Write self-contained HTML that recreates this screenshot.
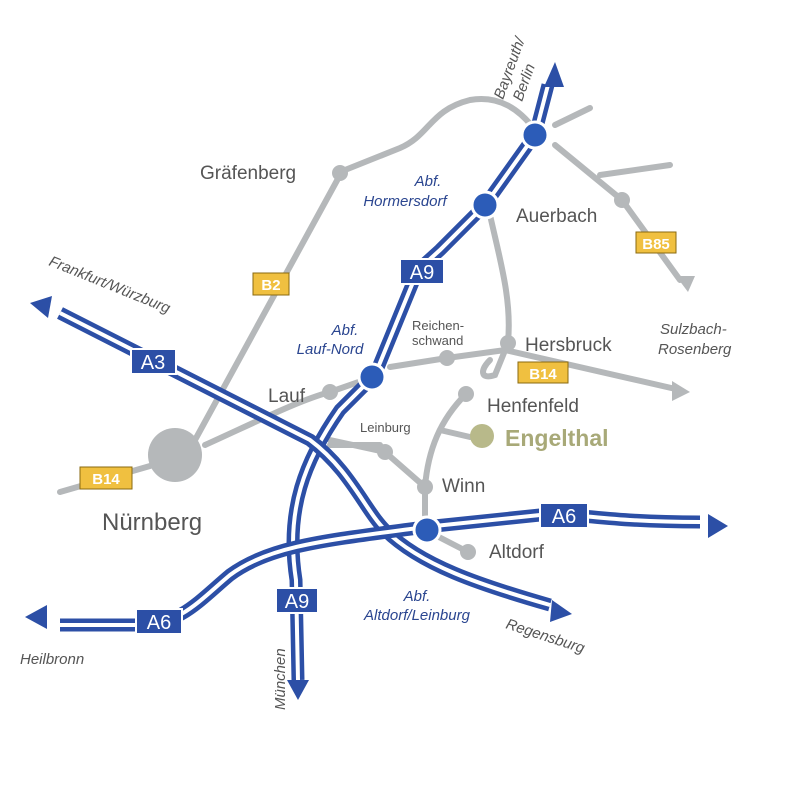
<!DOCTYPE html>
<html><head><meta charset="utf-8"><style>
html,body{margin:0;padding:0;background:#fff;width:800px;height:800px;overflow:hidden}
svg{display:block}
text{font-family:"Liberation Sans","DejaVu Sans",sans-serif}
.g{fill:none;stroke:#b5b8ba;stroke-width:6;stroke-linecap:round}
.hb{fill:none;stroke:#2c4fa6;stroke-width:13}
.hw{fill:none;stroke:#fff;stroke-width:4}
.lab{fill:#555;font-size:19px}
.it{fill:#2b4690;font-size:15px;font-style:italic}
.itg{fill:#555;font-size:15px;font-style:italic}
</style></head><body>
<svg width="800" height="800" viewBox="0 0 800 800">
<!-- gray roads -->
<path class="g" d="M195,440 L340,175"/>
<path class="g" d="M345,170 L400,148 C430,135 430,110 470,100 C500,95 520,110 535,130"/>
<path class="g" d="M205,445 C260,420 300,400 330,392 L370,378"/>
<path class="g" d="M390,367 L447,358 L505,350 L680,390"/>
<path class="g" d="M555,145 L622,200 L680,280"/>
<path class="g" d="M600,175 L670,165"/>
<path class="g" d="M555,125 L590,108"/>
<path class="g" d="M490,215 C500,260 512,300 508,342"/>
<path class="g" d="M508,343 L495,375 C480,380 480,370 490,360"/>
<path class="g" d="M466,394 C440,420 428,450 425,487 L425,515"/>
<path class="g" d="M440,430 L470,437"/>
<path class="g" d="M330,440 L385,452 L425,487"/>
<path class="g" d="M330,445 L380,445"/>
<path class="g" d="M435,535 L468,552"/>
<path class="g" d="M60,492 L150,466"/>
<polygon points="690,392 672,381 672,401" fill="#b5b8ba"/>
<polygon points="688,292 676,276 695,276" fill="#b5b8ba"/>
<!-- highways -->
<g>
<path class="hb" d="M548,85 L535,135 L485,205 L440,250 L418,270 L375,375 L340,410 C305,460 285,510 296,580 L298,680"/>
<path class="hw" d="M548,85 L535,135 L485,205 L440,250 L418,270 L375,375 L340,410 C305,460 285,510 296,580 L298,680"/>
<path class="hb" d="M60,313 L310,440 C350,470 365,510 385,530 C420,565 480,585 550,605"/>
<path class="hw" d="M60,313 L310,440 C350,470 365,510 385,530 C420,565 480,585 550,605"/>
<path class="hb" d="M60,625 L140,625 C180,625 200,600 230,575 C270,545 330,540 425,527 L540,515 C580,512 600,522 700,522"/>
<path class="hw" d="M60,625 L140,625 C180,625 200,600 230,575 C270,545 330,540 425,527 L540,515 C580,512 600,522 700,522"/>
</g>
<polygon points="555,62 544,87 564,87" fill="#2c4fa6"/>
<polygon points="30,303 52,296 48,318" fill="#2c4fa6"/>
<polygon points="572,614 552,600 550,622" fill="#2c4fa6"/>
<polygon points="25,617 47,605 47,629" fill="#2c4fa6"/>
<polygon points="728,526 708,514 708,538" fill="#2c4fa6"/>
<polygon points="298,700 287,680 309,680" fill="#2c4fa6"/>
<!-- shields -->
<g fill="#2c4fa6" stroke="#fff" stroke-width="2">
<rect x="400" y="259" width="44" height="25"/>
<rect x="131" y="349" width="45" height="25"/>
<rect x="136" y="609" width="46" height="25"/>
<rect x="276" y="588" width="42" height="25"/>
<rect x="540" y="503" width="48" height="25"/>
</g>
<g fill="#fff" font-size="20" text-anchor="middle">
<text x="422" y="279">A9</text><text x="153" y="369">A3</text><text x="159" y="629">A6</text><text x="297" y="608">A9</text><text x="564" y="523">A6</text>
</g>
<g fill="#f0c040" stroke="#8a6a10" stroke-width="1">
<rect x="253" y="273" width="36" height="22"/><rect x="636" y="232" width="40" height="21"/><rect x="518" y="362" width="50" height="21"/><rect x="80" y="467" width="52" height="22"/>
</g>
<g fill="#fff" font-size="15" font-weight="bold" text-anchor="middle">
<text x="271" y="290">B2</text><text x="656" y="249">B85</text><text x="543" y="379">B14</text><text x="106" y="484">B14</text>
</g>
<!-- nodes -->
<g fill="#b5b8ba">
<circle cx="175" cy="455" r="27"/>
<circle cx="340" cy="173" r="8"/><circle cx="622" cy="200" r="8"/><circle cx="508" cy="343" r="8"/><circle cx="447" cy="358" r="8"/>
<circle cx="330" cy="392" r="8"/><circle cx="466" cy="394" r="8"/><circle cx="385" cy="452" r="8"/><circle cx="425" cy="487" r="8"/><circle cx="468" cy="552" r="8"/>
</g>
<circle cx="482" cy="436" r="12" fill="#b8b98a"/>
<g fill="#2c5cb8" stroke="#fff" stroke-width="3">
<circle cx="535" cy="135" r="13"/><circle cx="485" cy="205" r="13"/><circle cx="372" cy="377" r="13"/><circle cx="427" cy="530" r="13"/>
</g>
<!-- labels -->
<text class="lab" x="200" y="179">Gräfenberg</text>
<text class="lab" x="516" y="222">Auerbach</text>
<text class="lab" x="525" y="351">Hersbruck</text>
<text class="lab" x="487" y="412">Henfenfeld</text>
<text class="lab" x="268" y="402">Lauf</text>
<text class="lab" x="442" y="492">Winn</text>
<text class="lab" x="489" y="558">Altdorf</text>
<text x="102" y="530" fill="#555" font-size="24">Nürnberg</text>
<text x="505" y="446" fill="#a8a978" font-size="23" font-weight="bold">Engelthal</text>
<text x="412" y="330" fill="#555" font-size="13">Reichen-</text>
<text x="412" y="345" fill="#555" font-size="13">schwand</text>
<text x="360" y="432" fill="#555" font-size="13">Leinburg</text>
<text class="it" x="428" y="186" text-anchor="middle">Abf.</text>
<text class="it" x="405" y="206" text-anchor="middle">Hormersdorf</text>
<text class="it" x="345" y="335" text-anchor="middle">Abf.</text>
<text class="it" x="330" y="354" text-anchor="middle">Lauf-Nord</text>
<text class="it" x="417" y="601" text-anchor="middle">Abf.</text>
<text class="it" x="417" y="620" text-anchor="middle">Altdorf/Leinburg</text>
<text class="itg" x="660" y="334">Sulzbach-</text>
<text class="itg" x="658" y="354">Rosenberg</text>
<text class="itg" x="20" y="664">Heilbronn</text>
<text class="itg" transform="translate(48,265) rotate(22)">Frankfurt/Würzburg</text>
<text class="itg" transform="translate(505,628) rotate(18)">Regensburg</text>
<text class="itg" transform="translate(285,710) rotate(-90)">München</text>
<text class="itg" transform="translate(503,100) rotate(-70)">Bayreuth/</text>
<text class="itg" transform="translate(522,102) rotate(-70)">Berlin</text>
</svg>
</body></html>
